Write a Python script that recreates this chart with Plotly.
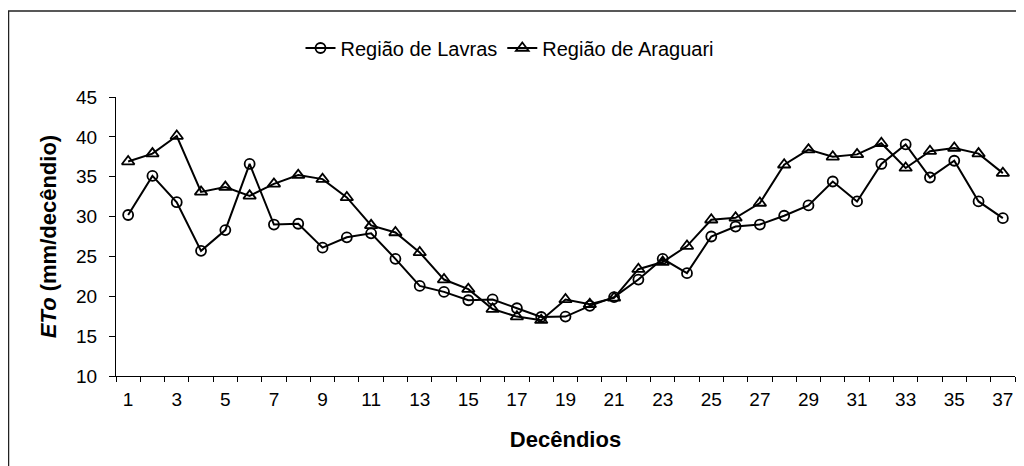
import plotly.graph_objects as go

decendios = list(range(1, 38))
lavras = [30.2, 35.1, 31.8, 25.7, 28.3, 36.6, 29.0, 29.1, 26.1, 27.4, 27.9, 24.7, 21.3,
          20.55, 19.5, 19.6, 18.5, 17.4, 17.45, 18.8, 19.9, 22.1, 24.7, 22.9, 27.5,
          28.75, 29.0, 30.1, 31.4, 34.4, 31.9, 36.6, 39.05, 34.9, 37.0, 31.9, 29.8]
araguari = [36.9, 37.9, 40.1, 33.1, 33.7, 32.6, 34.1, 35.2, 34.7, 32.4, 28.9, 28.0, 25.5,
            22.1, 20.9, 18.4, 17.45, 17.0, 19.6, 19.0, 19.8, 23.4, 24.3, 26.3, 29.6,
            29.85, 31.7, 36.5, 38.4, 37.5, 37.8, 39.2, 36.1, 38.2, 38.6, 37.9, 35.45]
xtick_labels = [str(v) for v in range(1, 38, 2)]
ytick_vals = [10, 15, 20, 25, 30, 35, 40, 45]

FONT = "Liberation Sans, Arial, sans-serif"

fig = go.Figure()
fig.add_trace(go.Scatter(
    x=decendios, y=lavras, name="Região de Lavras", mode="lines+markers",
    line=dict(color="black", width=2),
    marker=dict(symbol="circle-open", size=10, color="black", line=dict(width=1.8)),
))
fig.add_trace(go.Scatter(
    x=decendios, y=araguari, name="Região de Araguari", mode="lines+markers",
    line=dict(color="black", width=2),
    marker=dict(symbol="triangle-up-open", size=11, color="black", line=dict(width=1.8)),
))

# page is shown with an 8px body margin, so figure coords = screen coords - 8
W, H = 1016, 458
L, R, T, B = 108, 9, 89, 90
pw, ph = W - L - R, H - T - B

fig.add_shape(type="rect", xref="paper", yref="paper",
              x0=(0.5 - L) / pw, x1=(W + 10 - L) / pw,
              y0=(H - B - (H + 10)) / ph, y1=(H - B - 3) / ph,
              line=dict(color="#222", width=1.5), fillcolor="rgba(0,0,0,0)", layer="below")

fig.update_layout(
    width=W, height=H,
    margin=dict(l=L, r=R, t=T, b=B),
    paper_bgcolor="white", plot_bgcolor="white",
    font=dict(family=FONT, size=19, color="black"),
    showlegend=True,
    legend=dict(orientation="h", xref="container", yref="container",
                x=(510 - 8) / W, xanchor="center", y=1 - 40 / H, yanchor="middle",
                font=dict(size=20), bgcolor="rgba(0,0,0,0)", itemwidth=30,
                tracegroupgap=0),
    xaxis=dict(
        range=[0.5, 37.5], tickmode="array",
        tickvals=list(range(1, 38, 2)), ticktext=xtick_labels,
        ticks="", showgrid=False, zeroline=False,
        showline=True, linecolor="black", linewidth=1,
        ticklabelstandoff=6,
        minor=dict(tickmode="array", tickvals=[i + 0.5 for i in range(0, 38)],
                   ticks="outside", ticklen=5, tickcolor="black", tickwidth=1,
                   showgrid=False),
        title=dict(text="<b>Decêndios</b>", font=dict(size=22), standoff=22),
    ),
    yaxis=dict(
        range=[10, 45], tickmode="array", tickvals=ytick_vals,
        ticks="outside", ticklen=6, tickcolor="black", tickwidth=1,
        showgrid=False, zeroline=False,
        showline=True, linecolor="black", linewidth=1,
        ticklabelstandoff=8,
        title=dict(text="<b><i>ETo</i> (mm/decêndio)</b>", font=dict(size=22), standoff=13),
    ),
)

fig.write_html("out.html")
